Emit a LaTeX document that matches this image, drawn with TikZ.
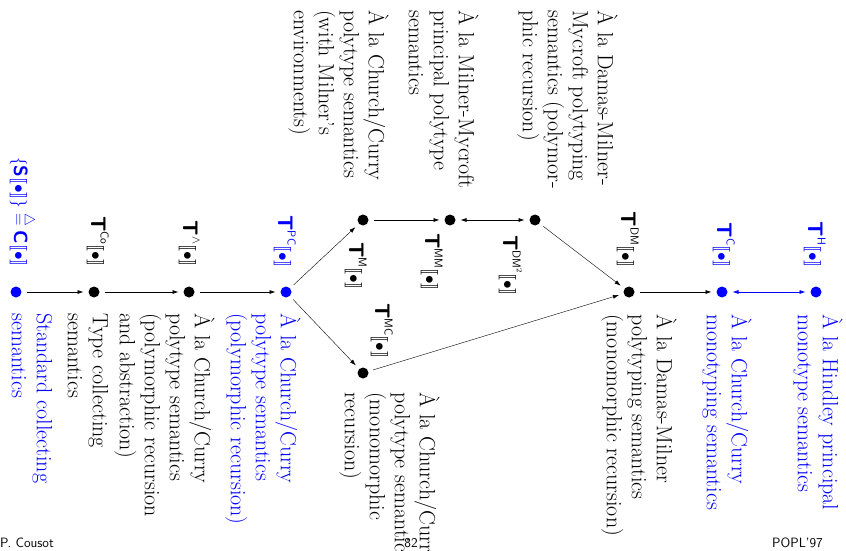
\documentclass[tikz,border=0pt]{standalone}
\usepackage{amsmath}
\usepackage{stmaryrd}
\usetikzlibrary{arrows.meta}

\newcommand{\tstrut}{\rule{0pt}{20pt}}
\newcommand{\Tsem}[1]{{\fontsize{21}{21}\selectfont\sffamily\bfseries T}%
  \raisebox{9.5pt}{\fontsize{11.5}{11.5}\selectfont\sffamily #1}%
  {\fontsize{16}{16}\selectfont$\llbracket\bullet\rrbracket$}}

\begin{document}
\begin{tikzpicture}[x=1pt,y=-1pt,
  dot/.style={circle,fill,inner sep=0pt,minimum size=11pt,outer sep=5pt},
  txt/.style={rotate=-90,anchor=north west,inner sep=0pt,align=left,font=\fontsize{22}{25}\selectfont},
  lab/.style={rotate=-90,inner sep=0pt},
  foot/.style={inner sep=0pt,font=\fontsize{13.5}{13.5}\selectfont\sffamily},
  arr/.style={-{Latex[length=6pt,width=4pt]},line width=0.6pt},
  thinarr/.style={-{Latex[length=6pt,width=4pt]},line width=0.4pt},
  both/.style={{Latex[length=6pt,width=4pt]}-{Latex[length=6pt,width=4pt]},line width=0.6pt}]
  \useasboundingbox (0,0) rectangle (846,551);
  \node[dot,blue] (s) at (16,292) {};
  \node[dot] (tco) at (94,292) {};
  \node[dot] (tand) at (189,292) {};
  \node[dot,blue] (tpc) at (286,292) {};
  \node[dot] (tm) at (363,220) {};
  \node[dot] (tmm) at (450,220) {};
  \node[dot] (tdmsq) at (535,220) {};
  \node[dot] (tmc) at (363,373) {};
  \node[dot] (tdm) at (629,292) {};
  \node[dot,blue] (tc) at (722,292) {};
  \node[dot,blue] (th) at (816,292) {};
  \node[lab,anchor=base east,blue] (s-lab) at (14,267) {\fontsize{19}{19}\selectfont$\{\textsf{\bfseries S}\llbracket\bullet\rrbracket\}\stackrel{\triangle}{=}\textsf{\bfseries C}\llbracket\bullet\rrbracket$};
  \node[lab,anchor=base east] (tco-lab) at (91,267) {\Tsem{Co}};
  \node[lab,anchor=base east] (tand-lab) at (183,267) {\Tsem{$\wedge$}};
  \node[lab,anchor=base east,blue] (tpc-lab) at (278,268) {\Tsem{PC}};
  \node[lab,anchor=base west] (tm-lab) at (349,242) {\Tsem{M}};
  \node[lab,anchor=base west] (tmm-lab) at (425,233) {\Tsem{MM}};
  \node[lab,anchor=base west] (tdmsq-lab) at (503,235) {\Tsem{DM$^2$}};
  \node[lab,anchor=base west] (tmc-lab) at (375,303) {\Tsem{MC}};
  \node[lab,anchor=base east] (tdm-lab) at (621,268) {\Tsem{DM}};
  \node[lab,anchor=base east,blue] (tc-lab) at (717,268) {\Tsem{C}};
  \node[lab,anchor=base east,blue] (th-lab) at (808,268) {\Tsem{H}};
  \node[txt,blue] (s-txt) at (57,313) {\tstrut Standard collecting\\semantics};
  \node[txt] (tco-txt) at (113,313) {\tstrut Type collecting\\semantics};
  \node[txt] (tand-txt) at (215,313) {\tstrut À la Church/Curry\\polytype semantics\\(polymorphic recursion\\and abstraction)};
  \node[txt,blue] (tpc-txt) at (301,313) {\tstrut À la Church/Curry\\polytype semantics\\(polymorphic recursion)};
  \node[txt] (tmc-txt) at (440,392) {\tstrut À la Church/Curry\\polytype semantic\\(monomorphic\\recursion)};
  \node[txt] (tdm-txt) at (677,314) {\tstrut À la Damas-Milner\\polytyping semantics\\(monomorphic recursion)};
  \node[txt,blue] (tc-txt) at (752,314) {\tstrut À la Church/Curry\\monotyping semantics};
  \node[txt,blue] (th-txt) at (843,314) {\tstrut À la Hindley principal\\monotype semantics};
  \node[txt] (tdmsq-txt) at (618,10) {\tstrut À la Damas-Milner-\\Mycroft polytyping\\semantics (polymor-\\phic recursion)};
  \node[txt] (tmm-txt) at (479,10) {\tstrut À la Milner-Mycroft\\principal polytype\\semantics};
  \node[txt] (tm-txt) at (389,10) {\tstrut À la Church/Curry\\polytype semantics\\(with Milner's\\environments)};
  \node[foot,anchor=base west] (author) at (0,547) {P. Cousot};
  \node[foot,anchor=base] (page) at (411,547) {82};
  \node[foot,anchor=base east] (conf) at (823,547) {POPL'97};
  \draw[arr] (s) -- (tco);
  \draw[arr] (tco) -- (tand);
  \draw[arr] (tand) -- (tpc);
  \draw[thinarr] (tpc) -- (tm);
  \draw[thinarr] (tpc) -- (tmc);
  \draw[arr] (tm) -- (tmm);
  \draw[both] (tmm) -- (tdmsq);
  \draw[thinarr] (tdmsq) -- (tdm);
  \draw[thinarr] (tmc) -- (tdm);
  \draw[arr] (tdm) -- (tc);
  \draw[both,blue] (tc) -- (th);
\end{tikzpicture}
\end{document}
